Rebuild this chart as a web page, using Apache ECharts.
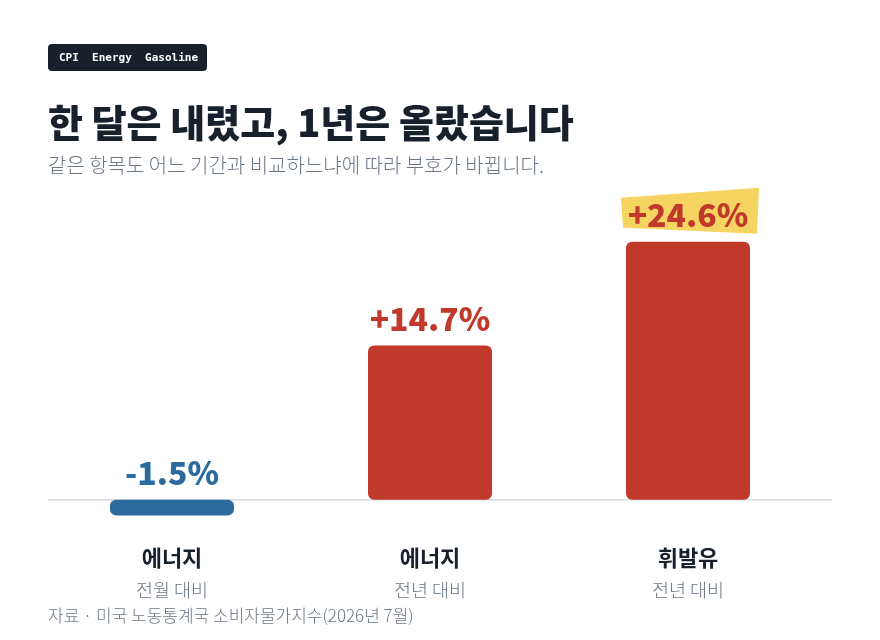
<!DOCTYPE html>
<html>
<head>
<meta charset="utf-8">
<script src="https://cdn.jsdelivr.net/npm/echarts@6/dist/echarts.min.js"></script>
<style>
  html, body { margin: 0; padding: 0; background: #fff; }
  #chart { width: 880px; height: 640px; }
</style>
</head>
<body>
<div id="chart"></div>
<script>
var categories = ['에너지', '에너지', '휘발유'];
var periods = ['전월 대비', '전년 대비', '전년 대비'];
var values = [-1.5, 14.7, 24.6];
var highlightIndex = 2;

var FONT = '"Noto Sans CJK KR", "Noto Sans", sans-serif';
var RED = '#c0392b';
var BLUE = '#2b6b9e';
var INK = '#17202b';
var GRAY = '#6b7785';

var chart = echarts.init(document.getElementById('chart'));

var option = {
	backgroundColor: '#fff',
	animation: false,
	textStyle: { fontFamily: FONT },
	grid: { left: 43, right: 63, top: 185, height: 356.6 },
	xAxis: {
		type: 'category',
		data: categories.map(function (c, i) { return c + '\n' + periods[i]; }),
		axisLine: { show: false },
		axisTick: { show: false },
		axisLabel: {
			margin: 2,
			formatter: function (v) {
				var p = v.split('\n');
				return '{a|' + p[0] + '}\n{b|' + p[1] + '}';
			},
			rich: {
				a: { fontSize: 22, fontWeight: 'bold', color: INK, lineHeight: 28, fontFamily: FONT },
				b: { fontSize: 18.5, fontWeight: 300, color: GRAY, lineHeight: 36, fontFamily: FONT }
			}
		}
	},
	yAxis: {
		type: 'value',
		min: -4,
		max: 30,
		show: false,
		splitLine: { show: false }
	},
	series: [{
		type: 'bar',
		barWidth: 124,
		z: 3,
		data: values.map(function (v) {
			return {
				value: v,
				itemStyle: {
					color: v < 0 ? BLUE : RED,
					borderRadius: 6
				},
				label: { color: v < 0 ? BLUE : RED }
			};
		}),
		label: {
			show: true,
			position: 'top',
			distance: 11,
			fontSize: 32,
			fontWeight: 900,
			fontFamily: FONT,
			formatter: function (p) {
				return (p.value > 0 ? '+' : '') + p.value.toFixed(1) + '%';
			}
		}
	}]
};

chart.setOption(option);

// baseline and highlight marker placed from the chart's own scales
var zeroY = chart.convertToPixel({ yAxisIndex: 0 }, 0);
var hp = chart.convertToPixel({ xAxisIndex: 0, yAxisIndex: 0 }, [highlightIndex, values[highlightIndex]]);
var cx = hp[0], cy = hp[1] - 27;

chart.setOption({
	graphic: [
		{
			type: 'rect', left: 48, top: 44, z: 10,
			shape: { width: 159, height: 27, r: 4 },
			style: { fill: INK }
		},
		{
			type: 'text', left: 59, top: 53, z: 11,
			style: {
				text: 'CPI  Energy  Gasoline',
				fill: '#fff',
				font: 'bold 11px "DejaVu Sans Mono", monospace'
			}
		},
		{
			type: 'text', left: 48, top: 104, z: 11,
			style: {
				text: '한 달은 내렸고, 1년은 올랐습니다',
				fill: INK,
				font: '900 38px ' + FONT
			}
		},
		{
			type: 'text', left: 48, top: 155, z: 11,
			style: {
				text: '같은 항목도 어느 기간과 비교하느냐에 따라 부호가 바뀝니다.',
				fill: GRAY,
				font: '300 20px ' + FONT
			}
		},
		{
			type: 'text', left: 48, top: 607, z: 11,
			style: {
				text: '자료 · 미국 노동통계국 소비자물가지수(2026년 7월)',
				fill: GRAY,
				font: '300 17px ' + FONT
			}
		},
		{
			type: 'line', z: 1,
			shape: { x1: 48, y1: zeroY, x2: 832, y2: zeroY },
			style: { stroke: '#d6dae0', lineWidth: 1.5 }
		},
		{
			type: 'polygon', z: 1,
			shape: {
				points: [
					[cx - 67, cy - 17],
					[cx + 71, cy - 27],
					[cx + 69, cy + 19],
					[cx - 65, cy + 13]
				]
			},
			style: { fill: '#f6d462' }
		}
	]
});
</script>
</body>
</html>
